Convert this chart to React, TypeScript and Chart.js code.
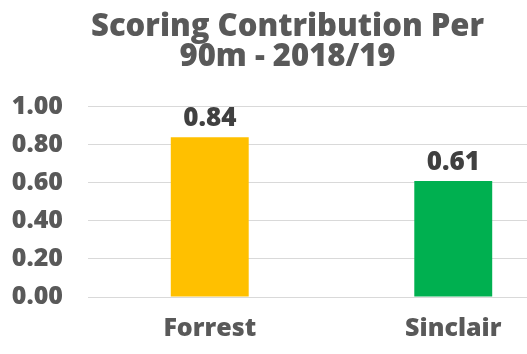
import React, { useEffect, useRef } from "react";
import { Chart, registerables } from "chart.js";

Chart.register(...registerables);

const titleLines = ["Scoring Contribution Per", "90m - 2018/19"];
const categories = ["Forrest", "Sinclair"];
const values = [0.84, 0.61];
const valueLabels = ["0.84", "0.61"];
const barColors = ["#FFC000", "#00B050"];
const yMin = 0;
const yMax = 1;
const yStep = 0.2;

const FONT = "'Open Sans', 'DejaVu Sans', sans-serif";

const valueLabelPlugin = {
  id: "valueLabels",
  afterDatasetsDraw(chart: any) {
    const ctx = chart.ctx;
    const meta = chart.getDatasetMeta(0);
    ctx.save();
    ctx.font = `800 26px ${FONT}`;
    ctx.fillStyle = "#404040";
    ctx.textAlign = "center";
    ctx.textBaseline = "alphabetic";
    meta.data.forEach((bar: any, i: number) => {
      ctx.fillText(valueLabels[i], bar.x, bar.y - 11);
    });
    ctx.restore();
  },
};

export default function App() {
  const ref = useRef<HTMLCanvasElement | null>(null);
  useEffect(() => {
    document.body.style.margin = "0";
    document.body.style.overflow = "hidden";
    const chart = new Chart(ref.current as HTMLCanvasElement, {
      type: "bar",
      data: {
        labels: categories,
        datasets: [
          {
            data: values,
            backgroundColor: barColors,
            barPercentage: 0.64,
            categoryPercentage: 0.5,
          },
        ],
      },
      options: {
        responsive: false,
        animation: false,
        layout: { padding: { left: 0, right: 6, top: 12, bottom: 0 } },
        plugins: {
          legend: { display: false },
          tooltip: { enabled: false },
          title: {
            display: true,
            text: titleLines,
            color: "#595959",
            font: { family: FONT, size: 31, weight: "800" as any, lineHeight: 0.98 },
            padding: { top: 0, bottom: 34 },
          },
        },
        scales: {
          x: {
            grid: { display: false },
            border: { display: false },
            ticks: {
              color: "#595959",
              font: { family: FONT, size: 25, weight: "800" as any },
              padding: 9,
            },
            afterFit(scale: any) {
              scale.height = 57;
            },
          },
          y: {
            min: yMin,
            max: yMax,
            grid: { color: "#D9D9D9", drawTicks: false, lineWidth: 1 },
            border: { display: false },
            ticks: {
              stepSize: yStep,
              color: "#595959",
              font: { family: FONT, size: 25, weight: "800" as any },
              padding: 25,
              callback: (v: any) => Number(v).toFixed(2),
            },
            afterFit(scale: any) {
              scale.width = 88;
            },
          },
        },
      },
      plugins: [valueLabelPlugin],
    });
    return () => chart.destroy();
  }, []);
  return (
    <div style={{ width: 527, height: 354, overflow: "hidden", position: "relative", background: "#fff" }}>
      <canvas ref={ref} width={581} height={354} style={{ position: "absolute", left: 0, top: 0 }} />
    </div>
  );
}
